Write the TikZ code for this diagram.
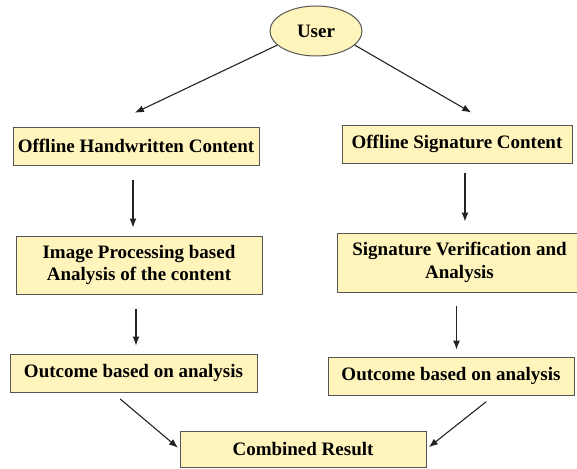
\documentclass[tikz,border=0pt]{standalone}
\usepackage{fontspec}
\setmainfont{Liberation Serif}
\usetikzlibrary{shapes.geometric,arrows.meta}
\definecolor{boxfill}{RGB}{255,245,188}
\definecolor{boxline}{RGB}{85,85,85}
\definecolor{arrowline}{RGB}{35,35,35}
\tikzset{
  stepbox/.style={draw=boxline, line width=1pt, fill=boxfill, inner sep=2pt,
    align=center, font=\bfseries\fontsize{19}{22.5}\selectfont},
  flow/.style={->, draw=arrowline, line width=1.1pt},
}
\begin{document}
\begin{tikzpicture}[x=1pt, y=-1pt, >={Latex[length=9pt,width=7pt]}]
\useasboundingbox (0,0) rectangle (577,468);
% top
\node[stepbox, ellipse, minimum width=92pt, minimum height=50pt] (user) at (316,31) {User};
% left column
\node[stepbox, minimum width=246pt, minimum height=38pt] (hw) at (136,146) {Offline Handwritten Content};
\node[stepbox, minimum width=246pt, minimum height=58pt] (ip) at (139,265) {Image Processing based\\Analysis of the content};
\node[stepbox, minimum width=247pt, minimum height=38pt] (oc1) at (133.5,373) {Outcome based on analysis};
% right column
\node[stepbox, minimum width=230pt, minimum height=38pt] (sig) at (457,144) {Offline Signature Content};
\node[stepbox, minimum width=245pt, minimum height=59pt] (sv) at (459.5,262.5) {Signature Verification and\\Analysis};
\node[stepbox, minimum width=246pt, minimum height=38pt] (oc2) at (451,376) {Outcome based on analysis};
% bottom
\node[stepbox, minimum width=246pt, minimum height=36pt] (comb) at (303,449) {Combined Result};

\draw[flow, shorten >=32pt] (user.200) -- ([xshift=-30pt]hw.north);
\draw[flow, shorten >=24pt] (user.340) -- ([xshift=35pt]sig.north);
\draw[flow, shorten <=14pt, shorten >=8pt] ([xshift=-3pt]hw.south) -- ([xshift=-3pt]hw.south |- ip.north);
\draw[flow, shorten <=14pt, shorten >=8pt] ([xshift=-3pt]ip.south) -- ([xshift=-3pt]ip.south |- oc1.north);
\draw[flow, shorten <=9pt, shorten >=11pt] ([xshift=8pt]sig.south) -- ([xshift=8pt]sig.south |- sv.north);
\draw[flow, shorten <=13pt, shorten >=7pt] ([xshift=-3pt]sv.south) -- ([xshift=-3pt]sv.south |- oc2.north);
\draw[flow, shorten <=10pt, shorten >=2pt] ([xshift=-21pt]oc1.south) -- (comb.west);
\draw[flow, shorten <=10pt, shorten >=3pt] ([xshift=43pt]oc2.south) -- (comb.east);
\end{tikzpicture}
\end{document}
